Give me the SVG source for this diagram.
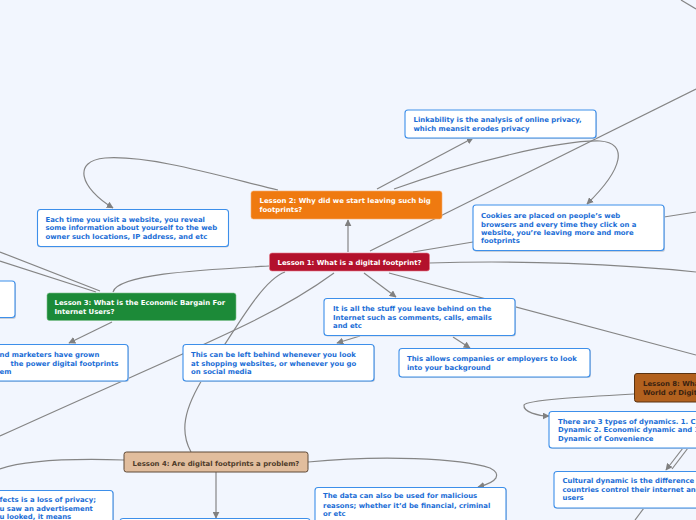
<svg xmlns="http://www.w3.org/2000/svg" width="696" height="520" viewBox="0 0 696 520">
<defs>
<marker id="ah" viewBox="0 0 10 10" refX="9" refY="5" markerWidth="7" markerHeight="7" markerUnits="userSpaceOnUse" orient="auto">
<path d="M0,0 L10,5 L0,10 z" fill="#808080"/>
</marker>
<style>
.bg{fill:#f2f6fe}
.c{fill:none;stroke:#858585;stroke-width:1.2}
.ca{fill:none;stroke:#858585;stroke-width:1.2;marker-end:url(#ah)}
.sh{fill:#c9cfd9}
.wb{fill:#ffffff;stroke:#3d8fea;stroke-width:1.1}
.t{font-family:"DejaVu Sans",Verdana,sans-serif;font-weight:bold;font-size:6.9px}
.bl{fill:#1a6dd6}
.wt{fill:#ffffff}
.l1{fill:#b3112c;stroke:#e57a8a;stroke-width:0.6}
.l2{fill:#ef7a10;stroke:#f6b070;stroke-width:0.6}
.l3{fill:#1c8a38;stroke:#7cc08c;stroke-width:0.6}
.l4{fill:#e1bd9d;stroke:#5f4a38;stroke-width:1}
.l8{fill:#b2611e;stroke:#5a3312;stroke-width:1}
</style>
</defs>
<rect class="bg" x="0" y="0" width="696" height="520"/>

<g id="connectors">
<path class="c" d="M681,0 L696,9"/>
<path class="c" d="M370,251 L696,89"/>
<path class="ca" d="M348,252 L348,220"/>
<path class="ca" d="M377,189 L473,138"/>
<path class="ca" d="M394,189 C470,162 560,140 600,141 C628,143 624,168 587,204"/>
<path class="ca" d="M278,190 C220,176 150,155 105,158 C72,161 80,188 113,208"/>
<path class="c" d="M413,252 L473,242"/>
<path class="c" d="M664,217 L696,212"/>
<path class="c" d="M429,263 C520,260 620,264 696,272"/>
<path class="c" d="M389,273 L696,355"/>
<path class="ca" d="M364,273 L396,297"/>
<path class="ca" d="M360,336 L337,343"/>
<path class="ca" d="M453,337 L470,348"/>
<path class="c" d="M269,266 C200,270 118,274 113,292"/>
<path class="ca" d="M112,322 L69,343"/>
<path class="c" d="M0,252 L100,291"/>
<path class="c" d="M0,261 L96,292"/>
<path class="c" d="M285,272 C262,280 235,330 205,375 C183,410 180,432 191,452"/>
<path class="c" d="M334,273 C270,320 200,345 0,436"/>
<path class="c" d="M124,460 C60,458 20,462 0,469"/>
<path class="ca" d="M308,462 C380,455 460,458 490,468 C502,474 498,482 478,487"/>
<path class="ca" d="M216,472 L216,518"/>
<path class="ca" d="M634,394 C580,397 526,400 524,405 C523,412 538,416 549,416"/>
<path class="ca" d="M683,448 L666,470"/>
<path class="c" d="M688,448 L672,469"/>
<path class="c" d="M644,508 L635,520"/>
</g>

<g id="n-lesson1">
<rect class="l1" x="269.5" y="253" width="160" height="18" rx="2.5"/>
<text class="t wt" x="349.5" y="264.8" text-anchor="middle">Lesson 1: What is a digital footprint?</text>
</g>

<g id="n-lesson2">
<rect class="l2" x="251" y="191" width="191" height="28" rx="2.5"/>
<text class="t wt" x="259.5" y="203">Lesson 2: Why did we start leaving such big</text>
<text class="t wt" x="259.5" y="212">footprints?</text>
</g>

<g id="n-linkability">
<rect class="sh" x="406" y="111" width="191" height="28" rx="3"/>
<rect class="wb" x="405" y="110" width="191" height="28" rx="3"/>
<text class="t bl" x="413.5" y="121.7">Linkability is the analysis of online privacy,</text>
<text class="t bl" x="413.5" y="130.7">which meansit erodes privacy</text>
</g>

<g id="n-cookies">
<rect class="sh" x="474" y="206" width="191" height="46" rx="3"/>
<rect class="wb" x="473" y="205" width="191" height="45.5" rx="3"/>
<text class="t bl" x="481" y="218.4">Cookies are placed on people’s web</text>
<text class="t bl" x="481" y="226.6">browsers and every time they click on a</text>
<text class="t bl" x="481" y="234.8">website, you’re leaving more and more</text>
<text class="t bl" x="481" y="243">footprints</text>
</g>

<g id="n-eachtime">
<rect class="sh" x="38" y="210" width="191" height="37.5" rx="3"/>
<rect class="wb" x="37.5" y="209.5" width="191" height="37" rx="3"/>
<text class="t bl" x="45.5" y="221.5">Each time you visit a website, you reveal</text>
<text class="t bl" x="45.5" y="230.3">some information about yourself to the web</text>
<text class="t bl" x="45.5" y="239">owner such locations, IP address, and etc</text>
</g>

<g id="n-left-partial">
<rect class="sh" x="-180" y="282" width="196" height="37" rx="3"/>
<rect class="wb" x="-181" y="281" width="196" height="36.5" rx="3"/>
</g>

<g id="n-lesson3">
<rect class="l3" x="47" y="293" width="189" height="27.5" rx="2.5"/>
<text class="t wt" x="54.5" y="305.2">Lesson 3: What is the Economic Bargain For</text>
<text class="t wt" x="54.5" y="314.2">Internet Users?</text>
</g>

<g id="n-marketers">
<rect class="sh" x="-60" y="345" width="189" height="37" rx="3"/>
<rect class="wb" x="-61" y="344.5" width="189" height="36.5" rx="3"/>
<text class="t bl" x="-0.5" y="356.8">nd marketers have grown</text>
<text class="t bl" x="10.5" y="365.7">the power digital footprints</text>
<text class="t bl" x="-0.5" y="374.2">em</text>
</g>

<g id="n-leftbehind">
<rect class="sh" x="184" y="345" width="191" height="37" rx="3"/>
<rect class="wb" x="183" y="344.5" width="191" height="36.5" rx="3"/>
<text class="t bl" x="191" y="356.8">This can be left behind whenever you look</text>
<text class="t bl" x="191" y="365.7">at shopping websites, or whenever you go</text>
<text class="t bl" x="191" y="374.2">on social media</text>
</g>

<g id="n-stuff">
<rect class="sh" x="325" y="299" width="191" height="37.5" rx="3"/>
<rect class="wb" x="324" y="298.5" width="191" height="37" rx="3"/>
<text class="t bl" x="333" y="311.1">It is all the stuff you leave behind on the</text>
<text class="t bl" x="333" y="319.7">Internet such as comments, calls, emails</text>
<text class="t bl" x="333" y="328.1">and etc</text>
</g>

<g id="n-allows">
<rect class="sh" x="400" y="349" width="191" height="29" rx="3"/>
<rect class="wb" x="399" y="348.5" width="191" height="28.5" rx="3"/>
<text class="t bl" x="407" y="361.1">This allows companies or employers to look</text>
<text class="t bl" x="407" y="370.1">into your background</text>
</g>

<g id="n-lesson8">
<rect class="l8" x="634.5" y="373.5" width="120" height="28.5" rx="2.5"/>
<text class="t" fill="#3a2210" x="643" y="385.7">Lesson 8: What are the Dynamics in the</text>
<text class="t" fill="#3a2210" x="643" y="394.7">World of Digital Footprints?</text>
</g>

<g id="n-dynamics">
<rect class="sh" x="550" y="412" width="190" height="37" rx="3"/>
<rect class="wb" x="549" y="411.5" width="190" height="36.5" rx="3"/>
<text class="t bl" x="558" y="423.7">There are 3 types of dynamics. 1. Cultural</text>
<text class="t bl" x="558" y="432.1">Dynamic 2. Economic dynamic and 3.</text>
<text class="t bl" x="558" y="440.7">Dynamic of Convenience</text>
</g>

<g id="n-cultural">
<rect class="sh" x="555" y="472" width="190" height="37" rx="3"/>
<rect class="wb" x="554" y="471.5" width="190" height="36.5" rx="3"/>
<text class="t bl" x="562.5" y="483.1">Cultural dynamic is the difference in how</text>
<text class="t bl" x="562.5" y="492.1">countries control their internet and</text>
<text class="t bl" x="562.5" y="499.7">users</text>
</g>

<g id="n-lesson4">
<rect class="l4" x="124" y="452" width="184" height="20" rx="2.5"/>
<text class="t" fill="#4e3b2a" x="216" y="465.7" text-anchor="middle">Lesson 4: Are digital footprints a problem?</text>
</g>

<g id="n-malicious">
<rect class="sh" x="316" y="488" width="191" height="40" rx="3"/>
<rect class="wb" x="315" y="487.5" width="191" height="40" rx="3"/>
<text class="t bl" x="323" y="498.4">The data can also be used for malicious</text>
<text class="t bl" x="323" y="507.7">reasons; whether it’d be financial, criminal</text>
<text class="t bl" x="323" y="515.7">or etc</text>
</g>

<g id="n-privacy">
<rect class="sh" x="-77" y="491" width="191" height="40" rx="3"/>
<rect class="wb" x="-78" y="490.5" width="191" height="40" rx="3"/>
<text class="t bl" x="-0.5" y="502.4">fects is a loss of privacy;</text>
<text class="t bl" x="-0.5" y="510.9">u saw an advertisement</text>
<text class="t bl" x="-0.5" y="519.1">u looked, it means</text>
</g>

<g id="n-bottom">
<rect class="wb" x="120" y="518.5" width="190" height="20" rx="3"/>
</g>
</svg>
